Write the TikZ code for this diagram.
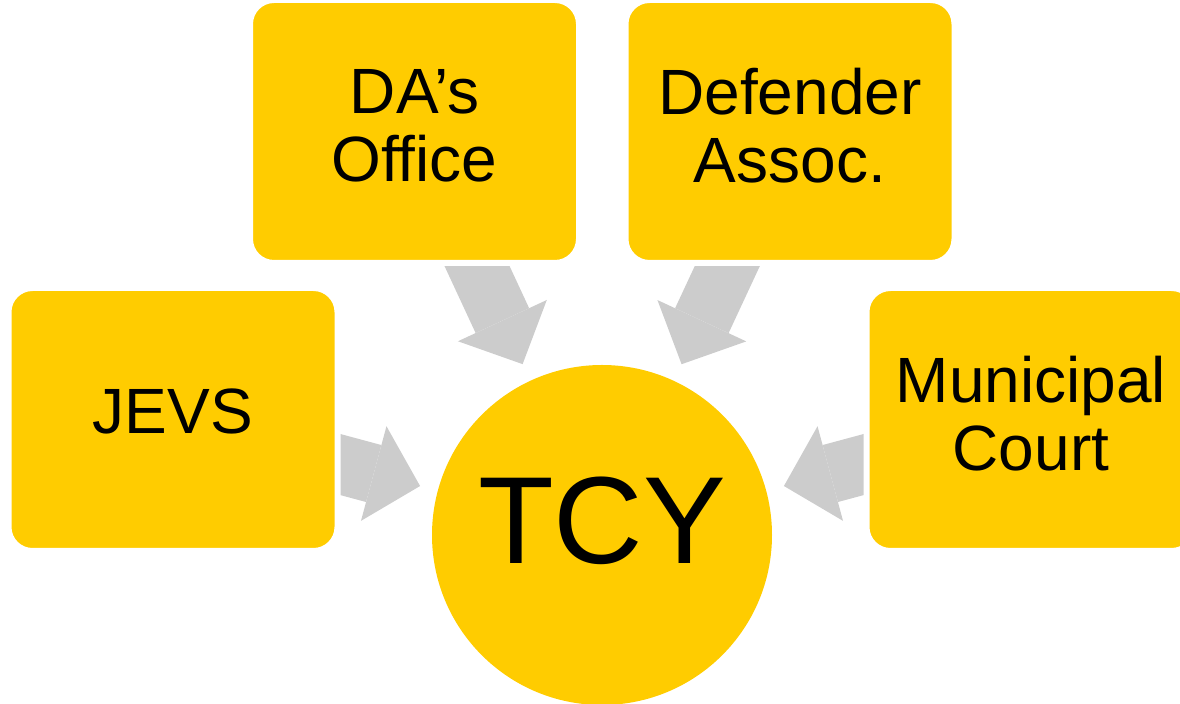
\documentclass[tikz,border=0pt]{standalone}
\usepackage{fontspec}
\setmainfont{Liberation Sans}
\usetikzlibrary{arrows.meta,backgrounds}

\definecolor{boxyellow}{HTML}{FFCC00}
\definecolor{feedgrey}{HTML}{CCCCCC}

\begin{document}
\begin{tikzpicture}[x=0.5pt, y=-0.5pt,
		agency/.style={rectangle, rounded corners=12pt, fill=boxyellow, draw=white, line width=3pt,
			minimum width=164.5pt, minimum height=131.5pt, inner sep=0pt, align=center,
			text depth=6pt, font=\fontsize{32}{34}\selectfont},
		hub/.style={circle, fill=boxyellow, minimum size=170pt, inner sep=0pt,
			text depth=15pt, font=\fontsize{62}{62}\selectfont},
		feed/.style={feedgrey, line width=29.5pt, shorten >=9pt,
			-{Triangle[width=49pt, length=24pt, line width=0pt]}}]

	\useasboundingbox (0, 0) rectangle (1180, 704);

	\node[hub]		(tcy)	at (602, 535)		{TCY};

	\node[agency]	(da)	at (414.5, 131.5)	{DA’s\\Office};
	\node[agency]	(def)	at (790, 131.5)		{Defender\\Assoc.};
	\node[agency, text depth=8pt]	(jevs)	at (173, 419.5)	{JEVS};
	\node[agency]	(mc)	at (1031, 419.5)	{Municipal\\Court};

	\begin{scope}[on background layer]
		\draw[feed]	(da.center) -- (tcy);
		\draw[feed]	(def.center) -- (tcy);
		\draw[feed]	(jevs.center) -- (tcy);
		\draw[feed]	(mc.center) -- (tcy);
	\end{scope}
\end{tikzpicture}
\end{document}
